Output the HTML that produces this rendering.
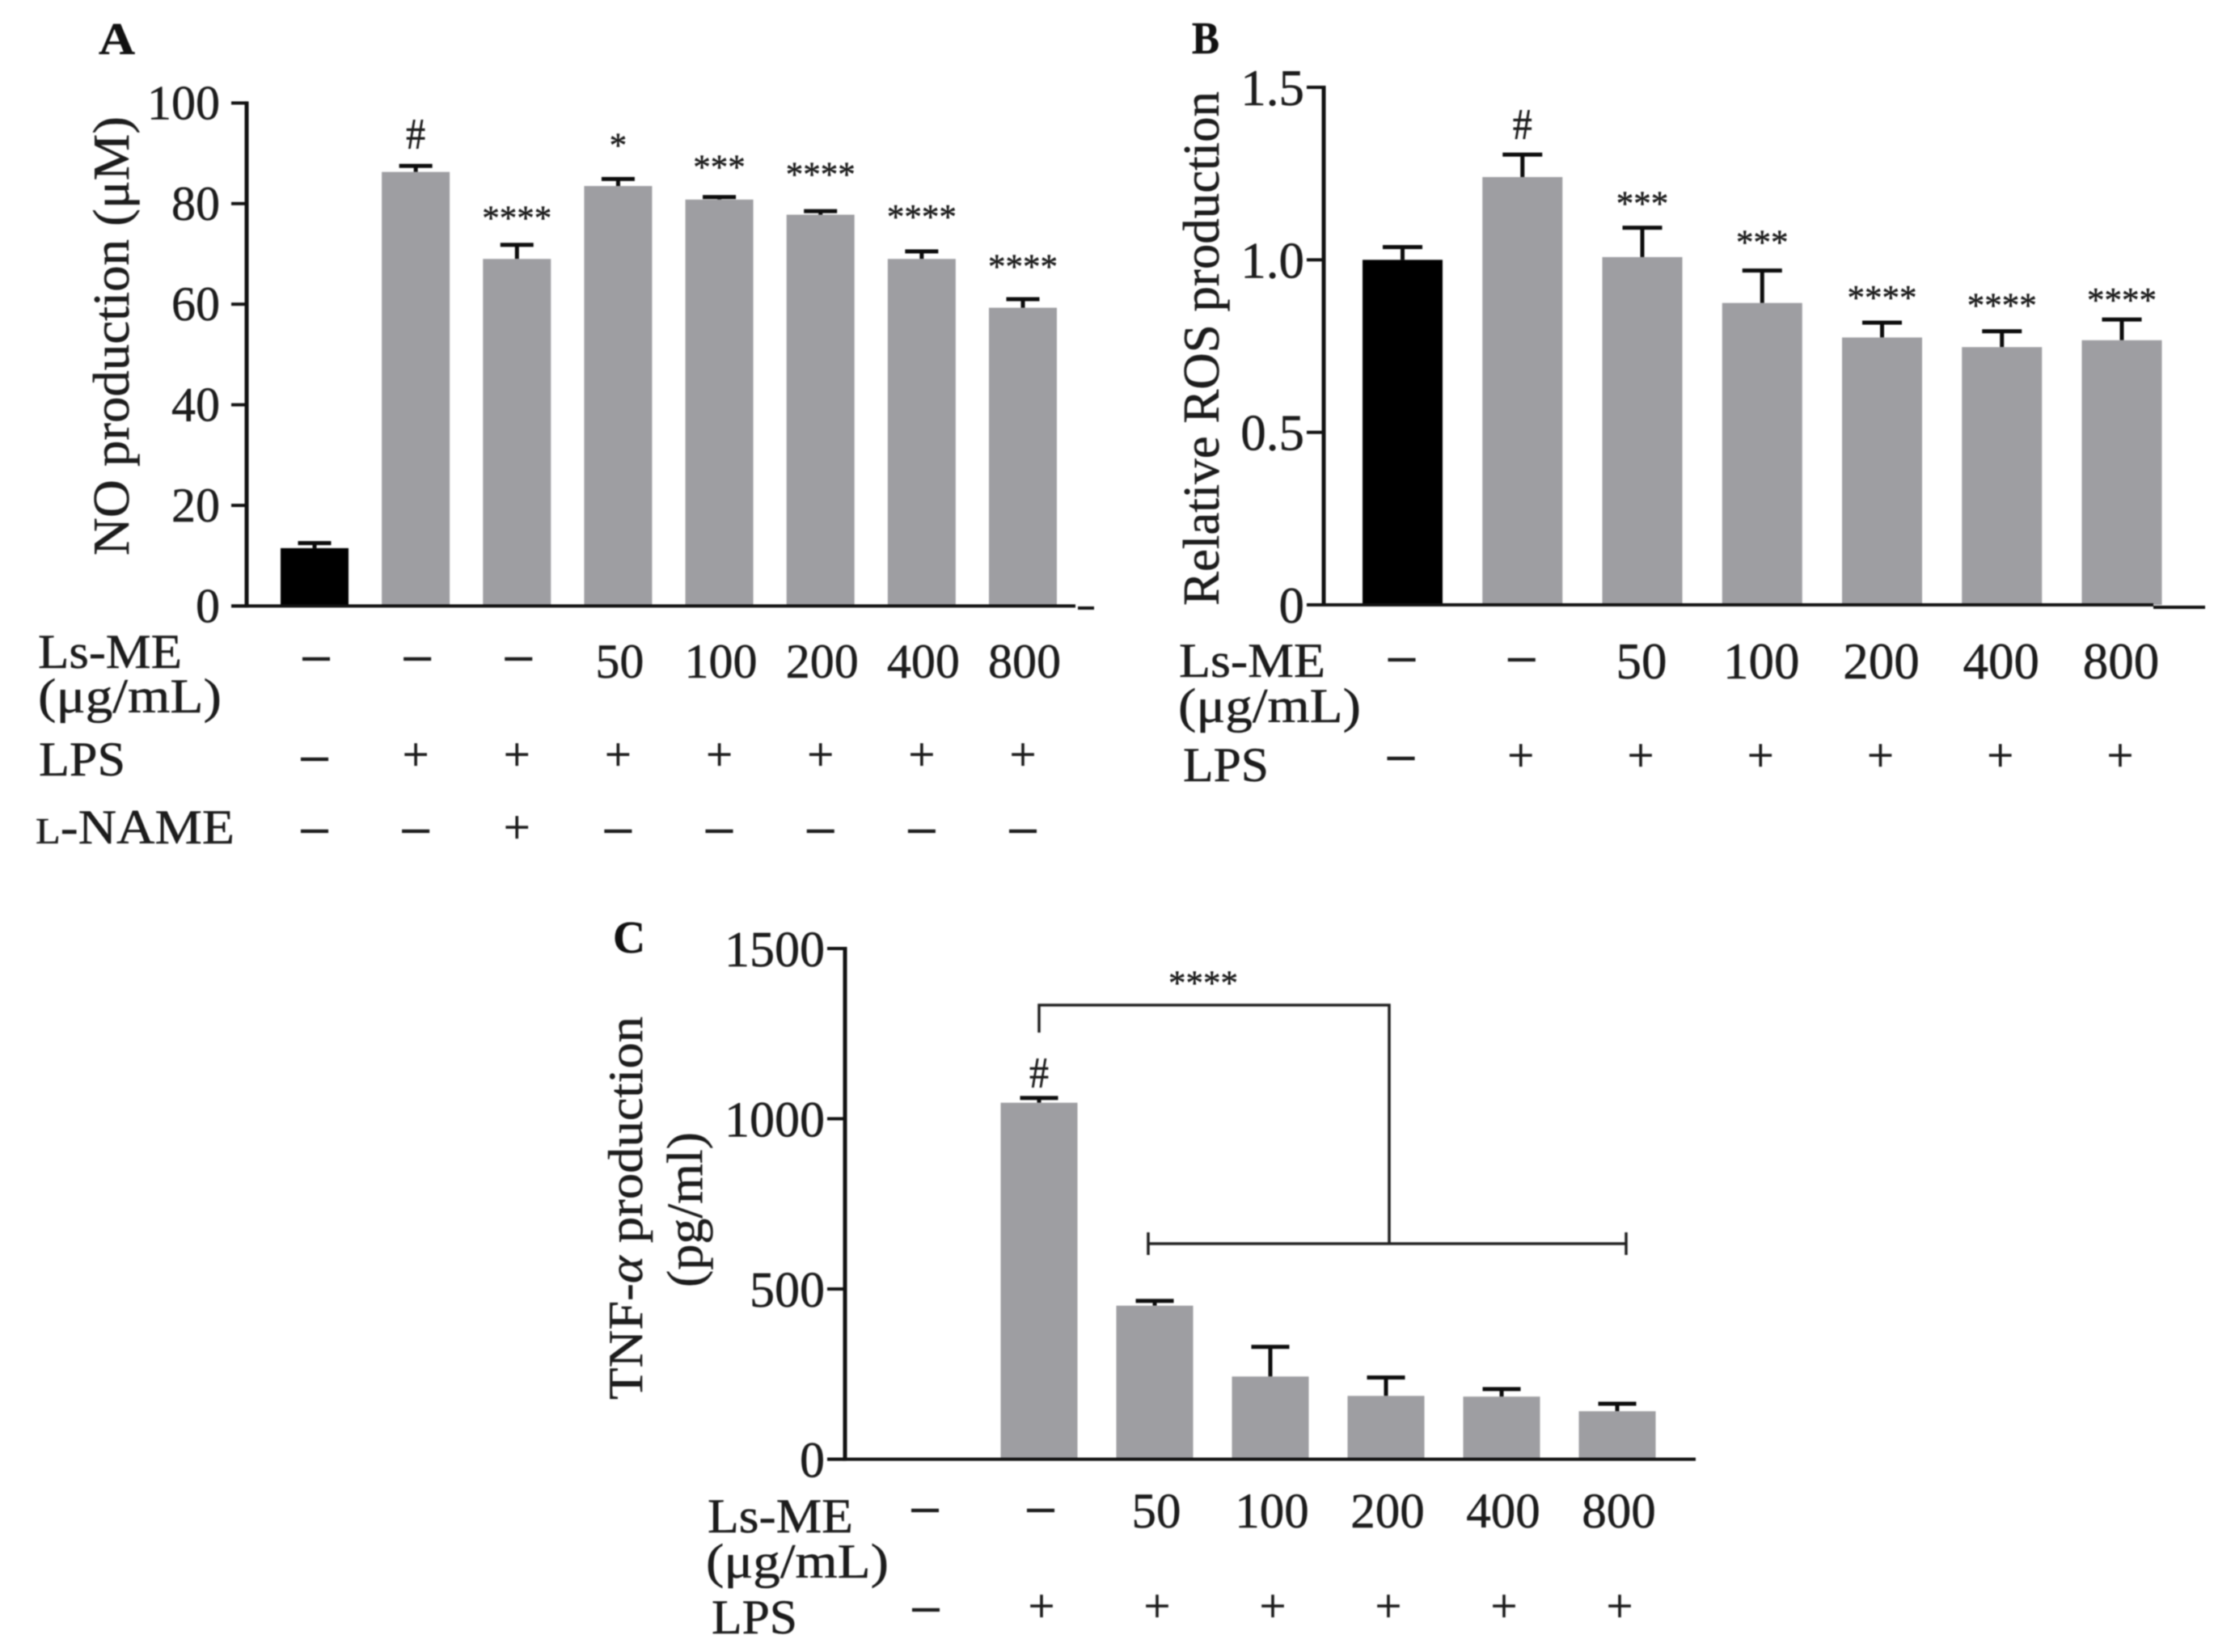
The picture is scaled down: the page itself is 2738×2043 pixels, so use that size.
<!DOCTYPE html>
<html lang="en">
<head>
<meta charset="utf-8">
<title>NO, ROS and TNF-α production</title>
<style>
html,body{margin:0;padding:0;background:#fff;}
body{width:2738px;height:2043px;overflow:hidden;}
svg{display:block;filter:blur(0.8px);}
text{font-family:"Liberation Serif","DejaVu Serif",serif;fill:#1c1c1c;stroke:#1c1c1c;stroke-width:0.5px;}
.rowlab{font-size:60px;}
.title{font-size:56px;font-weight:bold;fill:#111;}
</style>
</head>
<body>
<svg id="fig" xmlns="http://www.w3.org/2000/svg" width="2738" height="2043" viewBox="0 0 2738 2043">
  <rect x="0" y="0" width="2738" height="2043" fill="#fff"/>

  <g>
    <text class="title" x="122" y="67" textLength="45" lengthAdjust="spacingAndGlyphs">A</text>
    <text transform="translate(159 687) rotate(-90)" font-size="63" textLength="543" lengthAdjust="spacingAndGlyphs">NO production (μM)</text>
    <text class="rowlab" x="47" y="826" textLength="178" lengthAdjust="spacingAndGlyphs">Ls-ME</text>
    <text class="rowlab" x="47" y="881" textLength="227" lengthAdjust="spacingAndGlyphs">(μg/mL)</text>
    <text class="rowlab" x="48" y="959" textLength="107" lengthAdjust="spacingAndGlyphs">LPS</text>
    <text class="rowlab" x="44" y="1043" textLength="246" lengthAdjust="spacingAndGlyphs"><tspan font-size="46">L</tspan>-NAME</text>
  </g>

  <g>
    <text class="title" x="1474" y="66" textLength="34" lengthAdjust="spacingAndGlyphs">B</text>
    <text transform="translate(1507 749) rotate(-90)" font-size="63" textLength="636" lengthAdjust="spacingAndGlyphs">Relative ROS production</text>
    <text class="rowlab" x="1458" y="837" textLength="181" lengthAdjust="spacingAndGlyphs">Ls-ME</text>
    <text class="rowlab" x="1457" y="893" textLength="226" lengthAdjust="spacingAndGlyphs">(μg/mL)</text>
    <text class="rowlab" x="1463" y="966" textLength="106" lengthAdjust="spacingAndGlyphs">LPS</text>
  </g>

  <g>
    <text class="title" x="758" y="1178" textLength="40" lengthAdjust="spacingAndGlyphs">C</text>
    <text transform="translate(794 1731) rotate(-90)" font-size="60" textLength="474" lengthAdjust="spacingAndGlyphs">TNF-<tspan font-style="italic">α</tspan> production</text>
    <text transform="translate(868 1592) rotate(-90)" font-size="62" textLength="192" lengthAdjust="spacingAndGlyphs">(pg/ml)</text>
    <text class="rowlab" x="875" y="1895" textLength="180" lengthAdjust="spacingAndGlyphs">Ls-ME</text>
    <text class="rowlab" x="873" y="1951" textLength="226" lengthAdjust="spacingAndGlyphs">(μg/mL)</text>
    <text class="rowlab" x="880" y="2020" textLength="106" lengthAdjust="spacingAndGlyphs">LPS</text>
    <text x="1488" y="1230" font-size="43" text-anchor="middle">****</text>
    <path d="M1285 1277V1243H1718V1537M1420 1538H2011M1420 1524V1552M2011 1524V1552" fill="none" stroke="#222" stroke-width="3.5"/>
  </g>
</svg>

<script>
// Panel A data
const aTicks = [0, 20, 40, 60, 80, 100];
const aValues = [11.5, 86.3, 69, 83.5, 80.8, 77.8, 69, 59.3];
const aErrors = [1, 1.2, 2.8, 1.4, 0.5, 0.7, 1.5, 1.7];
const aMarks = ['', '#', '****', '*', '***', '****', '****', '****'];
const aMarkLevels = [0, 93.9, 78, 92.5, 88.2, 86.7, 78.3, 68.4];
const aDose = ['–', '–', '–', '50', '100', '200', '400', '800'];
const aLps = ['–', '+', '+', '+', '+', '+', '+', '+'];
const aLname = ['–', '–', '+', '–', '–', '–', '–', '–'];

// Panel B data
const bTicks = ['0', '0.5', '1.0', '1.5'];
const bValues = [1.0, 1.24, 1.008, 0.875, 0.775, 0.747, 0.767];
const bErrors = [0.037, 0.065, 0.085, 0.094, 0.043, 0.046, 0.06];
const bMarks = ['', '#', '***', '***', '****', '****', '****'];
const bMarkLevels = [0, 1.393, 1.176, 1.064, 0.904, 0.881, 0.897];
const bDose = ['–', '–', '50', '100', '200', '400', '800'];
const bLps = ['–', '+', '+', '+', '+', '+', '+'];

// Panel C data
const cTicks = [0, 500, 1000, 1500];
const cValues = [0, 1047, 451, 243, 186, 184, 141];
const cErrors = [0, 14, 14, 87, 54, 22, 22];
const cMarks = ['', '#', '', '', '', '', ''];
const cMarkLevels = [0, 1136, 0, 0, 0, 0, 0];
const cDose = ['–', '–', '50', '100', '200', '400', '800'];
const cLps = ['–', '+', '+', '+', '+', '+', '+'];

const NS = 'http://www.w3.org/2000/svg';
const fig = document.getElementById('fig');

function mk(tag, attrs, name, parent) {
  const el = document.createElementNS(NS, tag);
  for (const k in attrs) el.setAttribute(k, attrs[k]);
  
  
  (parent || fig).appendChild(el);
  return el;
}

function label(str, attrs, name, parent) {
  const el = mk('text', attrs, name, parent);
  el.textContent = str;
  return el;
}

function scaleLinear(d0, d1, r0, r1) {
  return function (v) { return r0 + (v - d0) / (d1 - d0) * (r1 - r0); };
}

function drawAxes(g, x0, tickLeft, xEnd, yTop, yBase, ticks, yScale, fs, rightEdge, tickDy, pid) {
  mk('rect', {x: x0 - 2.5, y: yTop - 2, width: 5, height: yBase - yTop + 4, fill: '#111'}, 'y-axis-line-' + pid, g);
  mk('rect', {x: tickLeft, y: yBase - 2, width: xEnd - tickLeft, height: 4, fill: '#111'}, 'x-axis-line-' + pid, g);
  ticks.forEach(function (t) {
    const y = yScale(Number(t));
    mk('rect', {x: tickLeft, y: y - 2, width: x0 - tickLeft, height: 4, fill: '#111'}, 'y-tick-' + pid, g);
    label(String(t), {x: rightEdge, y: y + tickDy, 'font-size': fs, 'text-anchor': 'end'}, 'y-tick-label-' + pid, g);
  });
}

function drawBars(g, values, errors, xScale, yScale, barW, capW, firstBlack, pid) {
  const base = yScale(0);
  values.forEach(function (v, i) {
    if (v <= 0) return;
    const cx = xScale(i);
    const top = yScale(v);
    const errTop = yScale(v + errors[i]);
    const color = (firstBlack && i === 0) ? '#000' : '#9e9ea2';
    mk('rect', {x: cx - 2.5, y: errTop, width: 5, height: top - errTop, fill: '#0c0c0c'}, 'error-stem-' + pid, g);
    mk('rect', {x: cx - capW / 2, y: errTop - 2.5, width: capW, height: 5, fill: '#0c0c0c'}, 'error-cap-' + pid, g);
    mk('rect', {x: cx - barW / 2, y: top, width: barW, height: base - top, fill: color}, 'bar-' + pid + '-' + i, g);
  });
}

function drawMarks(g, marks, levels, xScale, yScale, pid) {
  marks.forEach(function (m, i) {
    if (!m) return;
    const y = yScale(levels[i]);
    if (m === '#') {
      label(m, {x: xScale(i), y: y + 18, 'font-size': 54, 'text-anchor': 'middle', textLength: 24, lengthAdjust: 'spacingAndGlyphs'}, 'hash-marker-' + pid, g);
    } else {
      label(m, {x: xScale(i), y: y + 20, 'font-size': 43, 'text-anchor': 'middle'}, 'significance-marker-' + pid, g);
    }
  });
}

function drawRow(g, cells, xScale, dashY, plusY, numBase, fs, pid, rowName) {
  cells.forEach(function (c, i) {
    const x = xScale(i);
    if (c === '–') {
      label(c, {x: x, y: dashY + 14.5, 'font-size': 64, 'text-anchor': 'middle', style: 'stroke-width:1.2px'}, rowName + '-minus-' + pid, g);
    } else if (c === '+') {
      label(c, {x: x, y: plusY + 15.5, 'font-size': 58, 'text-anchor': 'middle', style: 'stroke-width:0.7px'}, rowName + '-plus-' + pid, g);
    } else {
      label(c, {x: x, y: numBase, 'font-size': fs, 'text-anchor': 'middle'}, rowName + '-dose-' + pid, g);
    }
  });
}

// Panel A
const gA = mk('g', {}, 'panel-a-chart', fig);
const xA = function (i) { return 389 + i * 125.14; };
const yA = scaleLinear(0, 100, 749.4, 127.4);
drawBars(gA, aValues, aErrors, xA, yA, 84, 41, true, 'a');
drawAxes(gA, 305, 286, 1330, 127.4, 749.4, aTicks, yA, 60, 272, 20, 'a');
mk('rect', {x: 1333, y: 750, width: 20, height: 4, fill: '#111'}, 'x-axis-end-a', gA);
drawMarks(gA, aMarks, aMarkLevels, xA, yA, 'a');
drawRow(gA, aDose, function (i) { return xA(i) + 2; }, 815, 815, 838, 60, 'a', 'ls-me');
drawRow(gA, aLps, xA, 939, 937, 0, 58, 'a', 'lps');
drawRow(gA, aLname, xA, 1028, 1027, 0, 58, 'a', 'l-name');

// Panel B
const gB = mk('g', {}, 'panel-b-chart', fig);
const xB = function (i) { return 1734.5 + i * 148.25; };
const yB = scaleLinear(0, 1.5, 748, 108);
drawBars(gB, bValues, bErrors, xB, yB, 99, 49, true, 'b');
drawAxes(gB, 1637, 1616, 2663, 108, 748, bTicks, yB, 63, 1613, 22, 'b');
mk('rect', {x: 2663, y: 749, width: 64, height: 4, fill: '#111'}, 'x-axis-end-b', gB);
drawMarks(gB, bMarks, bMarkLevels, xB, yB, 'b');
drawRow(gB, bDose, function (i) { return xB(i) - 1; }, 816, 816, 839, 63, 'b', 'ls-me');
drawRow(gB, bLps, function (i) { return xB(i) - 2; }, 938, 938, 0, 61, 'b', 'lps');

// Panel C
const gC = mk('g', {}, 'panel-c-chart', fig);
const xC = function (i) { return 1142 + i * 143; };
const yC = scaleLinear(0, 1500, 1804.6, 1173);
drawBars(gC, cValues, cErrors, xC, yC, 95, 47, false, 'c');
drawAxes(gC, 1045, 1023, 2097, 1173, 1804.6, cTicks, yC, 62, 1020, 22, 'c');
drawMarks(gC, cMarks, cMarkLevels, xC, yC, 'c');
drawRow(gC, cDose, function (i) { return xC(i) + 2; }, 1868, 1868, 1889, 61, 'c', 'ls-me');
drawRow(gC, cLps, function (i) { return xC(i) + 3; }, 1991, 1990, 0, 58, 'c', 'lps');
</script>
</body>
</html>
